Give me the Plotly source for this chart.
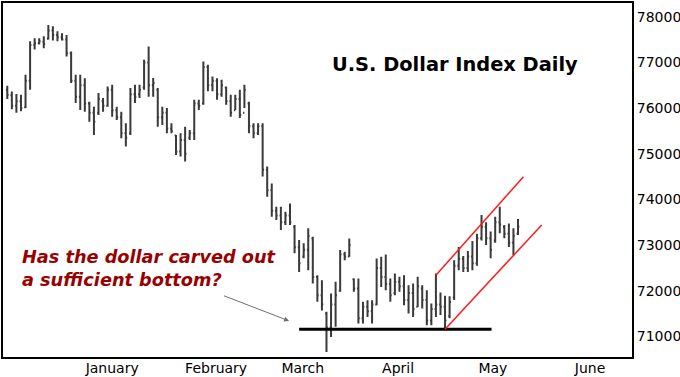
import plotly.graph_objects as go

# ---- data ----
highs = [76490, 76360, 76310, 76290, 76730, 77460, 77530, 77530, 77570, 77820,
         77790, 77680, 77640, 77600, 77240, 76730, 76730, 76650, 76140, 76030,
         76330, 76220, 76470, 76510, 76030, 75920, 75670, 76440, 76510, 76510,
         77060, 77350, 76660, 76440, 76030, 76000, 75670, 75410, 75450, 75590,
         75520, 76180, 76180, 77020, 76950, 76690, 76650, 76620, 76470, 76290,
         76290, 76400, 76510, 76140, 75670, 75670, 75670, 74720, 74350, 73840,
         73840, 73730, 73910, 73440, 73110, 73040, 73370, 73180, 72340, 72230,
         71540, 71940, 72200, 72890, 72853, 73147, 72270, 72270, 71757, 71794,
         71794, 72708, 72743, 72796, 72270, 72379, 72305, 72342, 72123, 72160,
         72305, 72123, 72013, 71720, 72379, 71960, 71890, 71880, 72670, 72960,
         72760, 72870, 73090, 73250, 73660, 73500, 73300, 73620, 73840, 73440,
         73470, 73370, 73570]
lows = [76200, 75975, 75900, 75930, 76000, 76400, 77280, 77390, 77310, 77500,
        77480, 77460, 77480, 77130, 76550, 76110, 75960, 75920, 75700, 75410,
        75850, 75920, 76030, 75810, 75740, 75340, 75160, 75410, 76110, 76220,
        76400, 76250, 76250, 75590, 75630, 75450, 75450, 74970, 74940, 74830,
        75300, 75300, 75960, 76070, 76370, 76370, 76180, 76250, 76070, 75810,
        75960, 75780, 76000, 75450, 75340, 75410, 74500, 74060, 73620, 73550,
        73330, 73440, 73440, 72820, 72410, 72710, 72450, 72160, 71760, 71570,
        70660, 70990, 71210, 71980, 72669, 72744, 71976, 71283, 71283, 71428,
        71283, 71684, 72085, 72013, 71757, 71904, 71976, 71684, 71502, 71428,
        71647, 71612, 71246, 71246, 71428, 71470, 71180, 71400, 71800, 72450,
        72410, 72410, 72450, 72550, 73100, 73000, 72710, 73050, 73260, 73150,
        72960, 72780, 73220]
opens = [76400, 76280, 76050, 76150, 76020, 76600, 77380, 77420, 77450, 77520,
         77700, 77600, 77550, 77500, 77200, 76600, 76250, 76500, 76100, 75900,
         75900, 76150, 76050, 76400, 75950, 75800, 75450, 75450, 76300, 76300,
         76450, 77000, 76500, 76400, 75800, 75900, 75550, 75400, 75050, 75300,
         75350, 75450, 76100, 76100, 76900, 76500, 76600, 76300, 76450, 76150,
         75950, 76200, 75900, 76100, 75600, 75450, 75600, 74650, 74200, 73750,
         73650, 73500, 73650, 73400, 72950, 72750, 72900, 73150, 72300, 71900,
         71500, 71200, 71700, 72000, 72800, 72750, 72250, 72050, 71400, 71650,
         71550, 71700, 72500, 72300, 72150, 71950, 72200, 72100, 71800, 71950,
         71650, 72050, 71800, 71350, 71600, 71700, 71650, 71450, 71850, 72550,
         72700, 72500, 72750, 72600, 73150, 73400, 73150, 73100, 73500, 73400,
         73250, 73050, 73250]
closes = [76290, 76050, 76150, 76000, 76600, 77380, 77420, 77460, 77400, 77700,
          77600, 77550, 77500, 77200, 76600, 76250, 76500, 76100, 75900, 75700,
          76200, 76050, 76400, 75950, 75800, 75450, 75350, 76300, 76250, 76400,
          77000, 76500, 76550, 75800, 75900, 75550, 75500, 75050, 75300, 75000,
          75450, 76100, 76050, 76900, 76500, 76600, 76300, 76500, 76150, 75900,
          76200, 75850, 76400, 75600, 75450, 75600, 74650, 74200, 73750, 73650,
          73500, 73650, 73500, 72950, 72600, 72900, 73200, 72300, 71900, 71700,
          71200, 71700, 71900, 72800, 72750, 73000, 72050, 71400, 71650, 71550,
          71700, 72500, 72300, 72150, 71900, 72200, 72100, 71800, 71950, 71600,
          72100, 71800, 71350, 71600, 71700, 71650, 71350, 71750, 72550, 72700,
          72500, 72750, 72600, 73150, 73400, 73150, 72900, 73500, 73450, 73250,
          73050, 73200, 73400]
days = list(range(len(highs)))

month_labels = ["January", "February", "March", "April", "May", "June"]
month_pos = [23, 45.8, 64.8, 85.7, 106.5, 127.8]
y_ticks = [71000, 72000, 73000, 74000, 75000, 76000, 77000, 78000]

support_x = [64.0, 106.2]
support_y = 71160
chan_upper_x = [94.0, 113.2]
chan_upper_y = [72340, 74498]
chan_lower_x = [96.0, 117.2]
chan_lower_y = [71158, 73439]
arrow_tip = (61.8, 71340)

title_text = "U.S. Dollar Index Daily"
note_text = "Has the dollar carved out<br>a sufficient bottom?"

# ---- figure ----
bar_col = "#3a3a3a"
fig = go.Figure(go.Ohlc(
    x=days, open=opens, high=highs, low=lows, close=closes,
    increasing=dict(line=dict(color=bar_col, width=2)),
    decreasing=dict(line=dict(color=bar_col, width=2)),
    tickwidth=0.3, hoverinfo="skip", showlegend=False))

fig.add_shape(type="line", x0=support_x[0], x1=support_x[1], y0=support_y, y1=support_y,
              line=dict(color="black", width=3))
fig.add_shape(type="line", x0=chan_upper_x[0], x1=chan_upper_x[1],
              y0=chan_upper_y[0], y1=chan_upper_y[1], line=dict(color="#ff1a1a", width=1.5))
fig.add_shape(type="line", x0=chan_lower_x[0], x1=chan_lower_x[1],
              y0=chan_lower_y[0], y1=chan_lower_y[1], line=dict(color="#ff1a1a", width=1.5))

fig.add_annotation(x=0.7186, y=0.825, xref="paper", yref="paper",
                   text="<b>" + title_text + "</b>",
                   showarrow=False, font=dict(family="DejaVu Sans", size=19.4, color="black"),
                   xanchor="center", yanchor="middle")
fig.add_annotation(x=0.0265, y=0.25, xref="paper", yref="paper",
                   text="<b><i>" + note_text + "</i></b>", showarrow=False, align="left",
                   font=dict(family="DejaVu Sans", size=17.7, color="#990000"),
                   xanchor="left", yanchor="middle")
fig.add_annotation(x=arrow_tip[0], y=arrow_tip[1], xref="x", yref="y", text="",
                   showarrow=True, ax=-66.6, ay=-25.7, arrowhead=2, arrowsize=1,
                   arrowwidth=1, arrowcolor="#6e6e6e")

fig.update_layout(
    width=680, height=377,
    margin=dict(l=3, r=48, t=3, b=20, autoexpand=False),
    paper_bgcolor="white", plot_bgcolor="white",
    font=dict(family="DejaVu Sans", size=14, color="black"),
    showlegend=False, hovermode=False,
)
fig.update_xaxes(range=[-0.94, 137], tickvals=month_pos, ticktext=month_labels,
                 showgrid=False, zeroline=False, ticks="", showline=True, mirror=True,
                 linecolor="black", linewidth=2, rangeslider=dict(visible=False),
                 tickfont=dict(size=14), ticklabelstandoff=-3, automargin=False)
fig.update_yaxes(range=[70550, 78300], side="right", tickvals=y_ticks, tickformat="d",
                 showgrid=False, zeroline=False, ticks="", showline=True, mirror=True,
                 linecolor="black", linewidth=2, tickfont=dict(size=14), automargin=False)

fig.write_html("out.html")
